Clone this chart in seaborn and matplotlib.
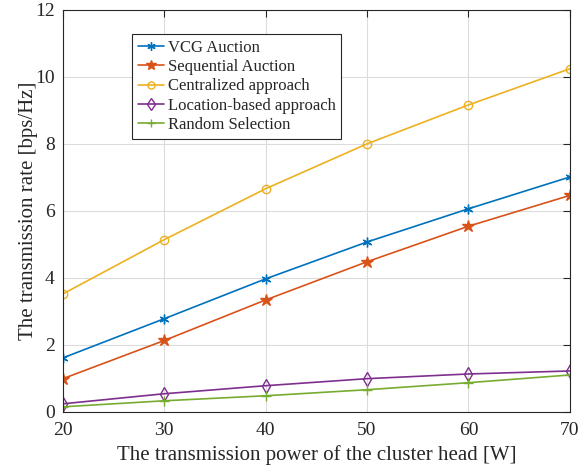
import matplotlib
matplotlib.use("Agg")
import matplotlib.pyplot as plt
import seaborn as sns
import pandas as pd

power = [20, 30, 40, 50, 60, 70]
vcg = [1.61, 2.78, 3.97, 5.07, 6.06, 7.01]
sequential = [0.99, 2.13, 3.34, 4.48, 5.54, 6.46]
centralized = [3.52, 5.14, 6.66, 8.00, 9.16, 10.24]
location = [0.24, 0.54, 0.78, 0.99, 1.13, 1.22]
random_sel = [0.15, 0.33, 0.48, 0.66, 0.87, 1.10]

names = ["VCG Auction", "Sequential Auction", "Centralized approach",
         "Location-based approach", "Random Selection"]
series = [vcg, sequential, centralized, location, random_sel]
colors = ["#0072BD", "#D95319", "#EDB120", "#7E2F8E", "#77AC30"]
markers = [(6, 2, 0), "*", "o", "d", "+"]
msizes = [7, 9, 6, 7, 7]

rows = []
for n, s in zip(names, series):
    for p, v in zip(power, s):
        rows.append({"power": p, "rate": v, "method": n})
df = pd.DataFrame(rows)

sns.set_style("white")
plt.rcParams["font.family"] = ["Liberation Serif", "DejaVu Serif"]
plt.rcParams["mathtext.fontset"] = "stix"

fig = plt.figure(figsize=(5.88, 4.68), dpi=100)
ax = fig.add_axes([0.107, 0.120, 0.862, 0.859])

for n, c, m, ms in zip(names, colors, markers, msizes):
    sub = df[df["method"] == n]
    sns.lineplot(data=sub, x="power", y="rate", ax=ax, color=c, marker=m,
                 markersize=ms, markerfacecolor="none" if m in ("o", "d") else c,
                 markeredgecolor=c, markeredgewidth=1.0, linewidth=1.2, label=n)

ax.set_xlim(20, 70)
ax.set_ylim(0, 12)
ax.set_xticks([20, 30, 40, 50, 60, 70])
ax.set_yticks([0, 2, 4, 6, 8, 10, 12])
ax.grid(True, color="#DCDCDC", linewidth=0.8)
ax.tick_params(direction="in", top=True, right=True, labelsize=14, colors="#262626",
               length=5, width=0.8)
ax.tick_params(axis="x", pad=7)
ax.tick_params(axis="y", pad=6)
for sp in ax.spines.values():
    sp.set_color("#262626")
    sp.set_linewidth(0.8)
ax.set_xlabel("The transmission power of the cluster head [W]", fontsize=15, color="#262626", labelpad=5)
ax.set_ylabel("The transmission rate [bps/Hz]", fontsize=15, color="#262626", labelpad=-2)

leg = ax.legend(loc="upper left", bbox_to_anchor=(0.136, 0.94), fontsize=12,
                frameon=True, fancybox=False, edgecolor="#262626", framealpha=1,
                borderpad=0.35, labelspacing=0.2, handlelength=1.6, handletextpad=0.2,
                borderaxespad=0, markerscale=0.85)
leg.get_frame().set_linewidth(0.8)

fig.savefig("out.png", dpi=100)
